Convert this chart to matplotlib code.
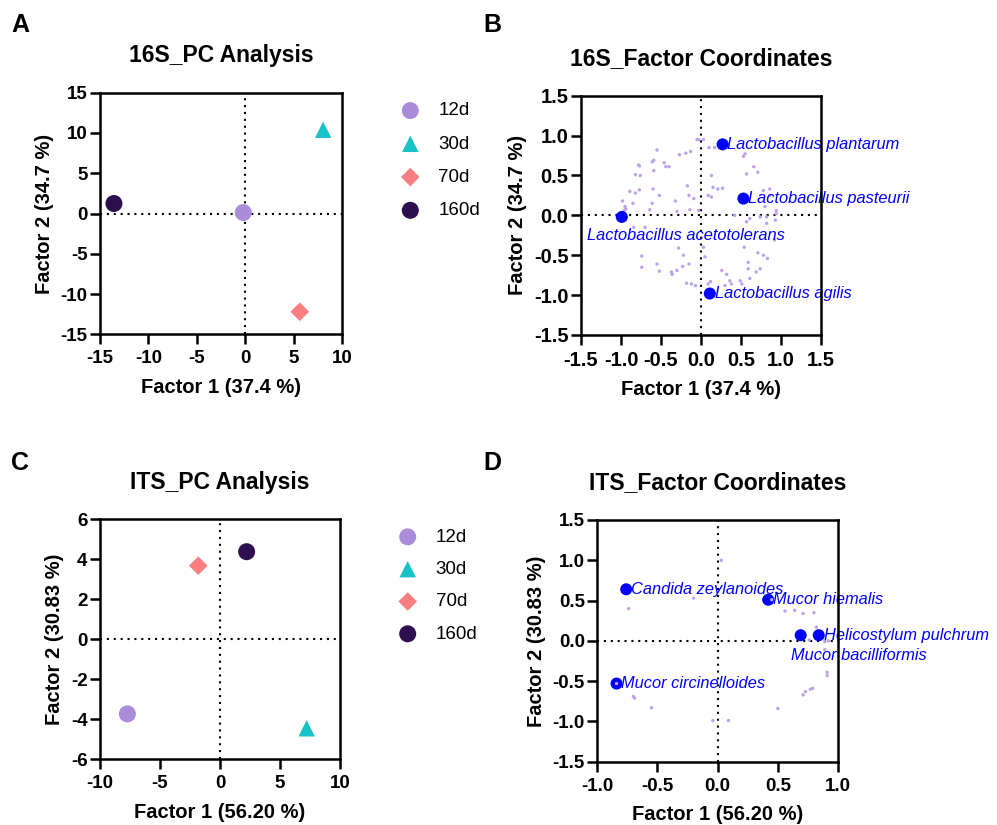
import matplotlib
matplotlib.use("Agg")
import matplotlib.pyplot as plt
from matplotlib.ticker import FixedLocator

plt.rcParams['font.family'] = ['Liberation Sans', 'DejaVu Sans']

# ---------------- data ----------------
groups = ["12d", "30d", "70d", "160d"]
group_colors = ["#AB8CDB", "#17C2C8", "#FB7F82", "#2D0E4F"]
group_markers = ["o", "^", "D", "o"]

# Panel A: 16S PCA scores
a_x = [-0.2, 8.05, 5.64, -13.56]
a_y = [0.12, 10.4, -12.2, 1.24]
# Panel C: ITS PCA scores
c_x = [-7.72, 7.22, -1.81, 2.22]
c_y = [-3.73, -4.45, 3.68, 4.38]

# Panel B: 16S factor coordinates (all taxa)
b_bg_x = [-0.55, -0.27, -0.19, -0.13, -0.05, -0.03, 0.03,
          -0.61, -0.46, -0.44, -0.40, -0.77, -0.59, -0.82,
          -0.17, -0.60, -0.52, -0.89, -0.82, -0.77,
          -0.32, -0.15, -0.09, -0.98, -0.95, -0.94, -0.96, -0.97,
          -0.85, -0.61, -0.64, -0.70, -0.84, -0.30, -0.14,
          -0.28, -0.22, -0.74, -0.74, -0.55, -0.52, -0.37, -0.36,
          -0.30, -0.23, -0.15, -0.18, -0.12, -0.07,
          0.10, 0.17, 0.55, 0.53, 0.66, 0.71, 0.57, 0.13,
          0.21, 0.27, 0.09, 0.15, 0.13, 0.78, 0.86, 0.86, 0.80, 0.94, 0.93,
          0.42, 0.61, 0.82, 0.57, 0.82, 0.92, -0.03,
          0.54, 0.71, 0.78, 0.83, 0.59, 0.59, 0.74, 0.69, 0.61,
          0.26, 0.32, 0.36, 0.38, 0.49, 0.51, 0.30, 0.09, 0.12,
          0.03, 0.05, -0.59, -0.78, -0.76, 0.74, 0.94]
b_bg_y = [0.82, 0.76, 0.78, 0.80, 0.95, 0.95, 0.95,
          0.67, 0.66, 0.61, 0.61, 0.62, 0.56, 0.51,
          0.37, 0.33, 0.25, 0.30, 0.28, 0.32,
          0.18, 0.25, 0.21, 0.18, 0.11, 0.08, 0.06, 0.04,
          0.15, 0.15, 0.07, -0.15, -0.15, 0.05, 0.07,
          -0.41, -0.50, -0.51, -0.65, -0.61, -0.70, -0.71, -0.74,
          -0.69, -0.64, -0.61, -0.85, -0.86, -0.88,
          0.85, 0.85, 0.77, 0.74, 0.61, 0.54, 0.52, 0.50,
          0.33, 0.34, 0.25, 0.35, 0.23, 0.31, 0.33, 0.25, 0.11, 0.06, -0.06,
          0.00, -0.04, -0.02, -0.08, -0.10, -0.31, 0.06,
          -0.40, -0.47, -0.50, -0.54, -0.59, -0.67, -0.67, -0.71, -0.79,
          -0.69, -0.74, -0.82, -0.86, -0.82, -0.86, -0.88, -0.86, -0.83,
          -0.40, -0.52, 0.69, 0.63, 0.50, -0.02, 0.02]
b_names = ["Lactobacillus plantarum", "Lactobacillus pasteurii",
           "Lactobacillus acetotolerans", "Lactobacillus agilis"]
b_x = [0.27, 0.53, -0.99, 0.11]
b_y = [0.89, 0.21, -0.02, -0.98]

# Panel D: ITS factor coordinates (all taxa)
d_bg_x = [0.03, -0.74, -0.20, -0.70, -0.69, -0.55, -0.04, 0.09, 0.50,
          0.56, 0.64, 0.71, 0.80, 0.82, 0.91, 0.91, 0.71, 0.73, 0.77, 0.79,
          0.76, 0.89, 0.92, 0.89, -0.84, 0.45]
d_bg_y = [1.00, 0.40, 0.53, -0.69, -0.71, -0.83, -0.99, -0.99, -0.84,
          0.37, 0.38, 0.34, 0.35, 0.17, -0.39, -0.43, -0.67, -0.63, -0.60, -0.59,
          0.01, -0.01, 0.00, -0.11, -0.53, 0.51]
d_names = ["Candida zeylanoides", "Mucor hiemalis", "Mucor bacilliformis",
           "Helicostylum pulchrum", "Mucor circinelloides"]
d_x = [-0.76, 0.42, 0.69, 0.84, -0.84]
d_y = [0.64, 0.51, 0.07, 0.07, -0.53]

# ---------------- figure ----------------
W, H = 997, 825
fig = plt.figure(figsize=(W / 100, H / 100), dpi=100)


def rect(l, r, t, b):
    return [l / W, 1 - b / H, (r - l) / W, (b - t) / H]


axA = fig.add_axes(rect(100, 342, 92.7, 334.3))
axB = fig.add_axes(rect(581, 821, 95.7, 335))
axC = fig.add_axes(rect(100, 340, 519.3, 759.3))
axD = fig.add_axes(rect(597.3, 838, 520, 761.7))

LAB_FS = 14.5
TITLE_FS = 16.5


def style(ax, xlim, ylim, xticks, yticks, xfmt, yfmt, title, xlabel, ylabel, tick_fs):
    ax.set_xlim(*xlim)
    ax.set_ylim(*ylim)
    ax.xaxis.set_major_locator(FixedLocator(xticks))
    ax.yaxis.set_major_locator(FixedLocator(yticks))
    ax.set_xticklabels([xfmt.format(v) for v in xticks], fontsize=tick_fs, fontweight='bold')
    ax.set_yticklabels([yfmt.format(v) for v in yticks], fontsize=tick_fs, fontweight='bold')
    ax.tick_params(axis='both', length=7.5, width=1.8, color='black')
    ax.tick_params(axis='x', pad=4)
    ax.tick_params(axis='y', pad=1.5)
    for s in ax.spines.values():
        s.set_linewidth(1.8)
        s.set_color('black')
    ax.axhline(0, color='black', lw=1.5, ls=(0, (1, 2.3)), zorder=1)
    ax.axvline(0, color='black', lw=1.5, ls=(0, (1, 2.3)), zorder=1)
    ax.set_title(title, fontsize=TITLE_FS, fontweight='bold', pad=22)
    ax.set_xlabel(xlabel, fontsize=LAB_FS, fontweight='bold', labelpad=7.5)
    ax.set_ylabel(ylabel, fontsize=LAB_FS, fontweight='bold', labelpad=5)


# Panel A
style(axA, (-15, 10), (-15, 15), [-15, -10, -5, 0, 5, 10], [-15, -10, -5, 0, 5, 10, 15],
      "{}", "{}", "16S_PC Analysis", "Factor 1 (37.4 %)", "Factor 2 (34.7 %)", 13.5)
# Panel C
style(axC, (-10, 10), (-6, 6), [-10, -5, 0, 5, 10], [-6, -4, -2, 0, 2, 4, 6],
      "{}", "{}", "ITS_PC Analysis", "Factor 1 (56.20 %)", "Factor 2 (30.83 %)", 13.5)
# Panel B
style(axB, (-1.5, 1.5), (-1.5, 1.5), [-1.5, -1.0, -0.5, 0.0, 0.5, 1.0, 1.5],
      [-1.5, -1.0, -0.5, 0.0, 0.5, 1.0, 1.5],
      "{:.1f}", "{:.1f}", "16S_Factor Coordinates", "Factor 1 (37.4 %)", "Factor 2 (34.7 %)", 14.5)
# Panel D
style(axD, (-1.0, 1.0), (-1.5, 1.5), [-1.0, -0.5, 0.0, 0.5, 1.0],
      [-1.5, -1.0, -0.5, 0.0, 0.5, 1.0, 1.5],
      "{:.1f}", "{:.1f}", "ITS_Factor Coordinates", "Factor 1 (56.20 %)", "Factor 2 (30.83 %)", 13.5)

msizes = {"o": 150, "^": 140, "D": 90}
for ax, xs, ys in ((axA, a_x, a_y), (axC, c_x, c_y)):
    for g, col, m, x, y in zip(groups, group_colors, group_markers, xs, ys):
        ax.scatter([x], [y], s=msizes[m], marker=m, color=col, edgecolors='none',
                   label=g, zorder=3, clip_on=False)

legA = axA.legend(loc='upper left', bbox_to_anchor=(1.2435, 0.96), frameon=False,
                  fontsize=13.5, handlelength=1.0, handletextpad=1.0, labelspacing=0.86,
                  borderpad=0, borderaxespad=0, scatterpoints=1)
legC = axC.legend(loc='upper left', bbox_to_anchor=(1.243, 0.961), frameon=False,
                  fontsize=13.5, handlelength=1.0, handletextpad=1.0, labelspacing=0.81,
                  borderpad=0, borderaxespad=0, scatterpoints=1)

# Panel B points
BG = "#BDA2EA"
axB.scatter(b_bg_x, b_bg_y, s=6, color=BG, edgecolors='none', zorder=2)
axB.scatter(b_x, b_y, s=75, color='#0000FF', edgecolors='none', zorder=3)
TXT = dict(color='#0000FF', fontsize=11.8, fontstyle='italic', zorder=2)
for name, x, y in zip(b_names, b_x, b_y):
    if name == "Lactobacillus acetotolerans":
        axB.text(-1.425, -0.25, name, ha='left', va='center', **TXT)
    else:
        axB.annotate(name, (x, y), xytext=(3.5, 0), textcoords='offset points',
                     ha='left', va='center', annotation_clip=False, **TXT)

# Panel D points
axD.scatter(d_x, d_y, s=75, color='#0000FF', edgecolors='none', zorder=3)
axD.scatter(d_bg_x, d_bg_y, s=6, color=BG, edgecolors='none', zorder=4)
for name, x, y in zip(d_names, d_x, d_y):
    if name == "Mucor bacilliformis":
        axD.text(0.61, -0.18, name, ha='left', va='center', **TXT)
    else:
        axD.annotate(name, (x, y), xytext=(3.5, 0), textcoords='offset points',
                     ha='left', va='center', annotation_clip=False, **TXT)

# panel letters
for letter, x, y in (("A", 11, 25), ("B", 483, 25), ("C", 11, 463), ("D", 483, 463)):
    fig.text(x / W, 1 - y / H, letter, fontsize=18, fontweight='bold', ha='left', va='center')

fig.savefig("out.png", dpi=100)
